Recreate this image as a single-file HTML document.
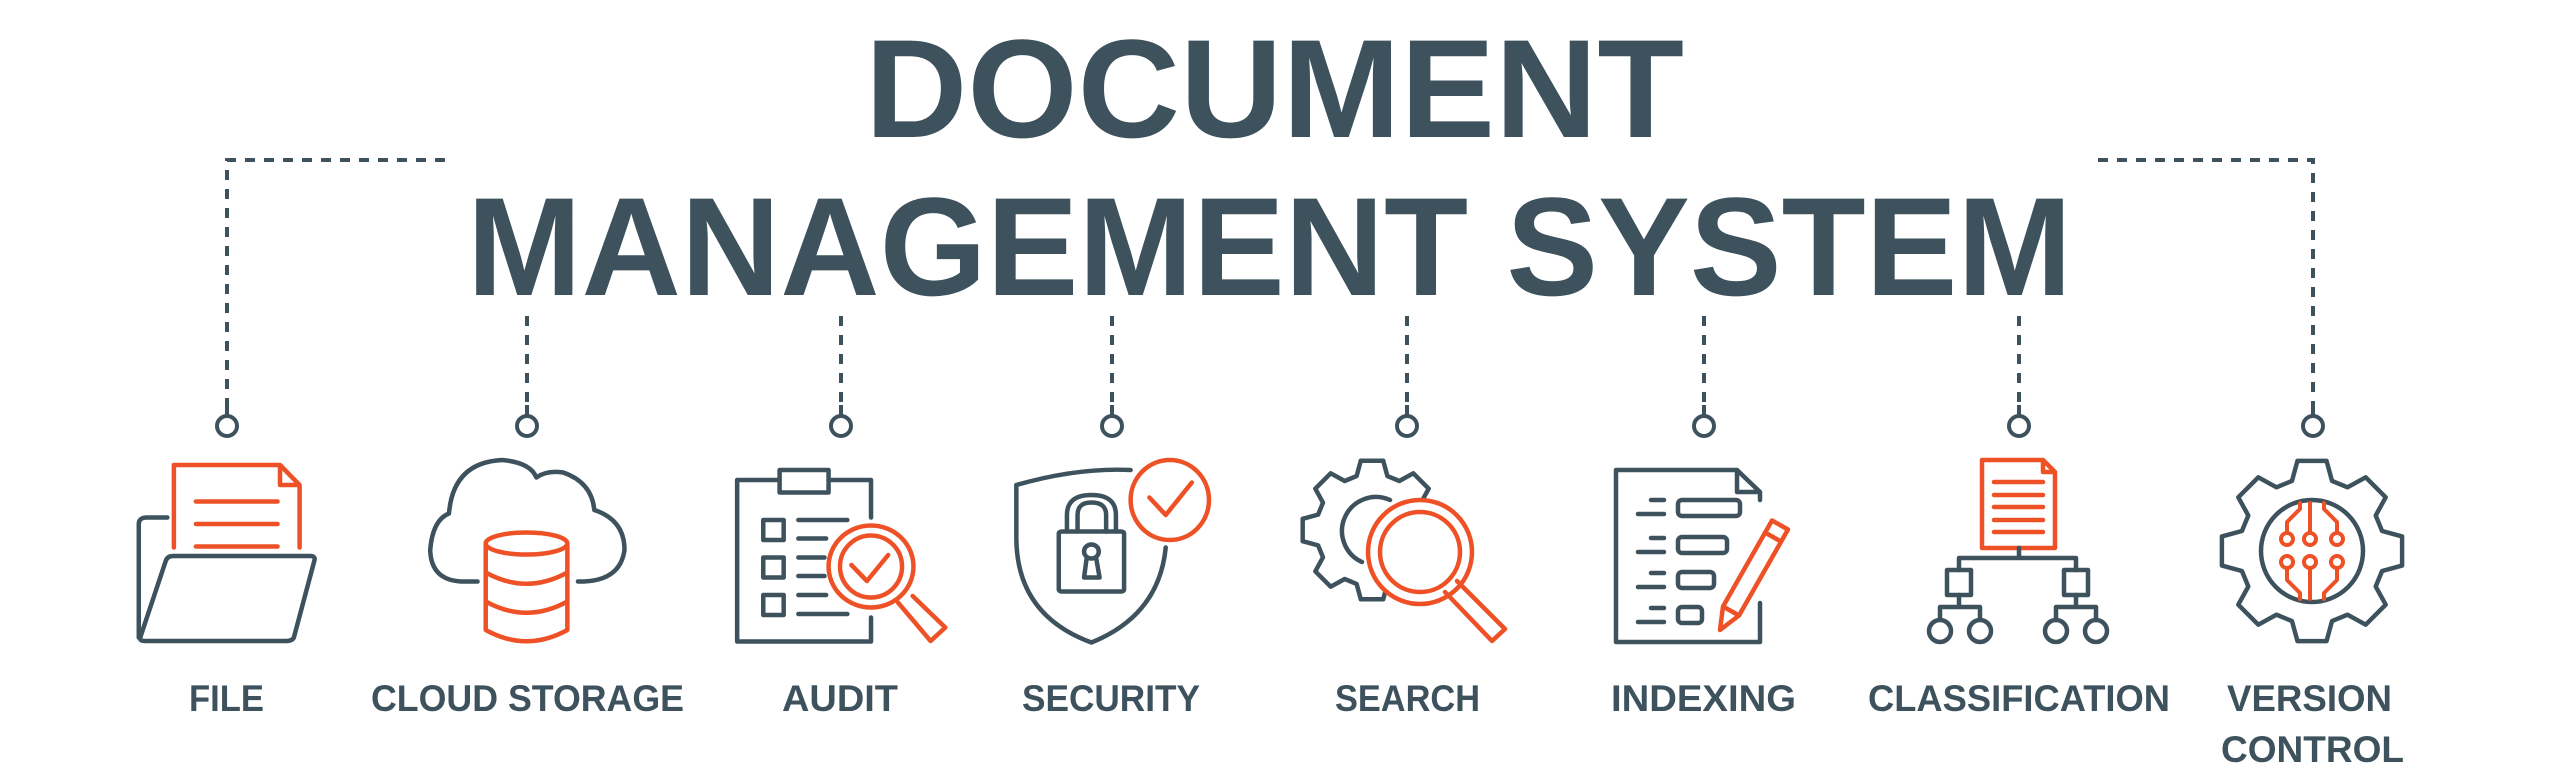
<!DOCTYPE html>
<html><head><meta charset="utf-8"><style>
html,body{margin:0;padding:0;background:#fff;}
svg{display:block;}
</style></head><body>
<svg width="2560" height="783" viewBox="0 0 2560 783" xmlns="http://www.w3.org/2000/svg">
<defs>
<path id="gear" d="M77,-22 L99,-16 L99,16 L77,22 L70,39 L81,59 L59,81 L39,70 L22,77 L16,99 L-16,99 L-22,77 L-39,70 L-59,81 L-81,59 L-70,39 L-77,22 L-99,16 L-99,-16 L-77,-22 L-70,-39 L-81,-59 L-59,-81 L-39,-70 L-22,-77 L-16,-99 L16,-99 L22,-77 L39,-70 L59,-81 L81,-59 L70,-39 Z"/>
</defs>
<g font-family="'Liberation Sans', sans-serif" font-weight="bold" fill="#3d525d">
<text x="865" y="137" font-size="140" textLength="819" lengthAdjust="spacingAndGlyphs">DOCUMENT</text>
<text x="467" y="295" font-size="140" textLength="1605" lengthAdjust="spacingAndGlyphs">MANAGEMENT SYSTEM</text>
<g font-size="37">
<text x="189" y="711" textLength="75" lengthAdjust="spacingAndGlyphs">FILE</text>
<text x="371" y="711" textLength="313" lengthAdjust="spacingAndGlyphs">CLOUD STORAGE</text>
<text x="782" y="711" textLength="116" lengthAdjust="spacingAndGlyphs">AUDIT</text>
<text x="1022" y="711" textLength="178" lengthAdjust="spacingAndGlyphs">SECURITY</text>
<text x="1335" y="711" textLength="145" lengthAdjust="spacingAndGlyphs">SEARCH</text>
<text x="1611" y="711" textLength="185" lengthAdjust="spacingAndGlyphs">INDEXING</text>
<text x="1868" y="711" textLength="302" lengthAdjust="spacingAndGlyphs">CLASSIFICATION</text>
<text x="2227" y="711" textLength="165" lengthAdjust="spacingAndGlyphs">VERSION</text>
<text x="2221" y="762" textLength="183" lengthAdjust="spacingAndGlyphs">CONTROL</text>
</g>
</g>

<g stroke="#3d525d" stroke-width="4" fill="none" stroke-dasharray="10 9">
<path d="M445,160 H227 V405"/>
<path d="M2098,160 H2313 V405"/>
<path d="M527,316 V405 M841,316 V405 M1112,316 V405 M1407,316 V405 M1704,316 V405 M2019,316 V405"/>
</g>
<g stroke="#3d525d" stroke-width="4" fill="#fff">
<path d="M227,405 V415 M527,405 V415 M841,405 V415 M1112,405 V415 M1407,405 V415 M1704,405 V415 M2019,405 V415 M2313,405 V415"/>
<circle cx="227" cy="426" r="10"/><circle cx="527" cy="426" r="10"/><circle cx="841" cy="426" r="10"/><circle cx="1112" cy="426" r="10"/>
<circle cx="1407" cy="426" r="10"/><circle cx="1704" cy="426" r="10"/><circle cx="2019" cy="426" r="10"/><circle cx="2313" cy="426" r="10"/>
</g>

<g transform="scale(0.81633,0.5)" fill="none" stroke-width="4.5" stroke-linejoin="round" stroke-linecap="round">
<g stroke="#3d525d">
<path vector-effect="non-scaling-stroke" d="M205,1035 H180 Q170,1035 170,1048 V1275"/>
<path vector-effect="non-scaling-stroke" d="M212,1112 H380 Q387,1112 385,1122 L360,1275 Q358,1282 350,1282 H178 Q170,1282 172,1274 L203,1122 Q205,1112 212,1112 Z"/>
<path vector-effect="non-scaling-stroke" d="M585,1163 H565 Q528,1160 527,1100 Q530,1040 550,1027 Q555,925 615,920 Q650,925 657,955 Q670,940 690,945 Q725,965 728,1020 Q765,1040 765,1100 Q760,1160 715,1163 H708"/>
<path vector-effect="non-scaling-stroke" d="M955,960 H903 V1283 H1067 V1235 M1015,960 H1067 V1035"/>
<rect vector-effect="non-scaling-stroke" x="955" y="940" width="60" height="45"/>
<rect vector-effect="non-scaling-stroke" x="935" y="1040" width="25" height="40"/>
<rect vector-effect="non-scaling-stroke" x="935" y="1115" width="25" height="40"/>
<rect vector-effect="non-scaling-stroke" x="935" y="1190" width="25" height="40"/>
<path vector-effect="non-scaling-stroke" d="M978,1040 H1038 M978,1077 H1012 M978,1115 H1010 M978,1152 H1010 M978,1190 H1012 M978,1228 H1038"/>
<path vector-effect="non-scaling-stroke" d="M1385,940 Q1320,935 1245,970 V1075 Q1245,1230 1337,1285 Q1420,1230 1428,1095"/>
<rect vector-effect="non-scaling-stroke" x="1297" y="1063" width="80" height="120" rx="4"/>
<path vector-effect="non-scaling-stroke" d="M1307,1063 V1030 Q1307,990 1337,990 Q1367,990 1367,1030 V1063 M1320,1063 V1030 Q1320,1005 1337,1005 Q1355,1005 1355,1030 V1063"/>
<ellipse vector-effect="non-scaling-stroke" cx="1337" cy="1103" rx="9" ry="14"/>
<path vector-effect="non-scaling-stroke" d="M1331,1118 L1328,1155 H1347 L1343,1118"/>
</g>
<g stroke="#ee5126">
<path vector-effect="non-scaling-stroke" d="M213,1095 V930 H343 L367,970 V1095 M343,930 V970 H367"/>
<path vector-effect="non-scaling-stroke" d="M240,1003 H340 M240,1048 H340 M240,1093 H340"/>
<ellipse vector-effect="non-scaling-stroke" cx="645" cy="1087" rx="50" ry="22"/>
<path vector-effect="non-scaling-stroke" d="M595,1087 V1260 Q645,1305 695,1260 V1087 M595,1145 Q645,1190 695,1145 M595,1203 Q645,1248 695,1203"/>
<ellipse vector-effect="non-scaling-stroke" cx="1067" cy="1133" rx="52" ry="82" fill="#fff"/>
<ellipse vector-effect="non-scaling-stroke" cx="1067" cy="1133" rx="38" ry="62"/>
<path vector-effect="non-scaling-stroke" d="M1043,1130 L1062,1162 L1088,1110"/>
<path vector-effect="non-scaling-stroke" d="M1100,1205 L1140,1282 L1158,1255 L1118,1192"/>
<ellipse vector-effect="non-scaling-stroke" cx="1433" cy="1000" rx="48" ry="80" fill="#fff"/>
<path vector-effect="non-scaling-stroke" d="M1408,995 L1428,1030 L1460,965"/>
</g>
</g>

<g fill="none" stroke-width="4.5" stroke-linejoin="round" stroke-linecap="round">
<g transform="translate(1372,530) scale(0.7)"><use href="#gear" stroke="#3d525d" stroke-width="6.4"/></g>
<path d="M1390,500 A32,32 0 1 0 1362,562" stroke="#3d525d"/>
<circle cx="1420" cy="552" r="52" stroke="#ee5126" fill="#fff"/>
<circle cx="1420" cy="552" r="40" stroke="#ee5126"/>
<path d="M1445,592 L1492,641 L1505,629 L1457,581" stroke="#ee5126"/>
<path d="M1760,500 V492 L1737,470 H1616 V642 H1760 V603 M1737,470 V492 H1760" stroke="#3d525d"/>
<g stroke="#3d525d">
<path d="M1651,500 H1664 M1638,514 H1664 M1651,538 H1664 M1638,552 H1664 M1651,573 H1664 M1638,587 H1664 M1651,608 H1664 M1638,622 H1664"/>
<rect x="1678" y="500" width="62" height="16" rx="4"/>
<rect x="1678" y="537" width="49" height="16" rx="4"/>
<rect x="1678" y="572" width="36" height="16" rx="4"/>
<rect x="1678" y="607" width="24" height="16" rx="4"/>
</g>
<path d="M1720,630 L1723,606.5 L1772,520.5 L1788,529.5 L1739,615.5 Z M1765,532.5 L1781,541.5 M1723,606.5 L1739,615.5" stroke="#ee5126" fill="#fff"/>
<path d="M1982,548 V460 H2043 L2055,472 V548 Z M2043,460 V472 H2055" stroke="#ee5126"/>
<path d="M1994,482 H2043 M1994,495 H2043 M1994,507 H2043 M1994,520 H2043 M1994,532 H2043" stroke="#ee5126"/>
<g stroke="#3d525d">
<path d="M2019,548 V558 M1959,570 V558 H2076 V570 M1959,595 V607 M1940,620 V607 H1980 V620 M2076,595 V607 M2056,620 V607 H2096 V620"/>
<rect x="1947" y="570" width="24" height="25"/>
<rect x="2064" y="570" width="24" height="25"/>
<circle cx="1940" cy="631" r="11"/><circle cx="1980" cy="631" r="11"/>
<circle cx="2056" cy="631" r="11"/><circle cx="2096" cy="631" r="11"/>
</g>
<g transform="translate(2312,551) scale(0.91)"><use href="#gear" stroke="#3d525d" stroke-width="4.9"/></g>
<circle cx="2312" cy="551" r="51" stroke="#3d525d"/>
<g stroke="#ee5126" stroke-width="4">
<path d="M2310,503 V533 M2310,569 V599 M2287,533 V522 L2300,509 V503 M2337,533 V522 L2324,509 V503 M2287,568 V580 L2300,593 V599 M2337,568 V580 L2324,593 V599"/>
<circle cx="2287" cy="539" r="6"/><circle cx="2310" cy="539" r="6"/><circle cx="2337" cy="539" r="6"/>
<circle cx="2287" cy="562" r="6"/><circle cx="2310" cy="562" r="6"/><circle cx="2337" cy="562" r="6"/>
</g>
</g>
</svg>
</body></html>
